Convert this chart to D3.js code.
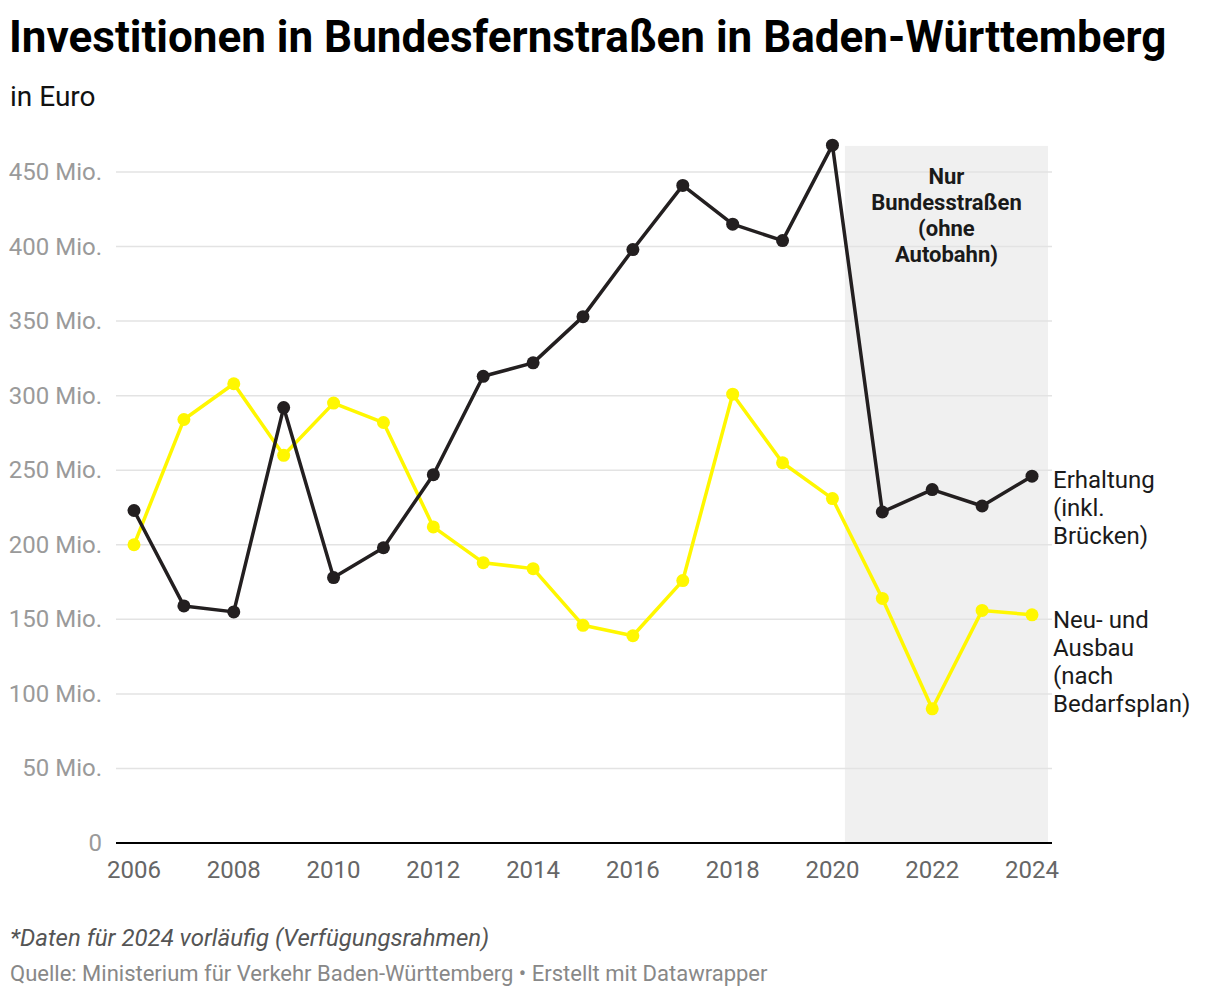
<!DOCTYPE html>
<html><head><meta charset="utf-8">
<script src="https://cdn.jsdelivr.net/npm/d3@7"></script>
<style>
body{margin:0;background:#fff;font-family:Roboto,"Noto Sans",sans-serif;}
</style></head><body>
<svg id="c" width="1220" height="998"></svg>
<script>
const years = [2006,2007,2008,2009,2010,2011,2012,2013,2014,2015,2016,2017,2018,2019,2020,2021,2022,2023,2024];
const erhaltung = [223,159,155,292,178,198,247,313,322,353,398,441,415,404,468,222,237,226,246];
const neubau = [200,284,308,260,295,282,212,188,184,146,139,176,301,255,231,164,90,156,153];
const yTicks = [0,50,100,150,200,250,300,350,400,450];
const xTicks = [2006,2008,2010,2012,2014,2016,2018,2020,2022,2024];
const shade = {from:2020.25, to:2024.32, top:467.5};
const shadeText = ["Nur","Bundesstraßen","(ohne","Autobahn)"];
const labelErh = ["Erhaltung","(inkl.","Brücken)"];
const labelNeu = ["Neu- und","Ausbau","(nach","Bedarfsplan)"];

const svg = d3.select("#c");
const x = d3.scaleLinear().domain([2006,2024]).range([134,1032]);
const y = d3.scaleLinear().domain([0,450]).range([843,172]);

svg.append("text").attr("x",9).attr("y",52).attr("font-size",44).attr("font-weight",700)
  .attr("fill","#000").text("Investitionen in Bundesfernstraßen in Baden-Württemberg");
svg.append("text").attr("x",10).attr("y",106).attr("font-size",28).attr("fill","#111").text("in Euro");

// shade
svg.append("rect").attr("x",x(shade.from)).attr("width",x(shade.to)-x(shade.from))
  .attr("y",y(shade.top)).attr("height",y(0)-y(shade.top)).attr("fill","#f0f0f0");

// grid
svg.append("g").selectAll("line").data(yTicks.filter(d=>d>0)).join("line")
  .attr("x1",116).attr("x2",1052).attr("y1",d=>y(d)).attr("y2",d=>y(d))
  .attr("stroke","#e3e3e3").attr("stroke-width",1.5);
svg.append("g").selectAll("text").data(yTicks).join("text")
  .attr("x",102).attr("y",d=>y(d)+8).attr("text-anchor","end").attr("font-size",24)
  .attr("fill","#9a9a9a").text(d=>d===0?"0":d+" Mio.");
svg.append("line").attr("x1",116).attr("x2",1052).attr("y1",y(0)).attr("y2",y(0))
  .attr("stroke","#000").attr("stroke-width",2);
svg.append("g").selectAll("text").data(xTicks).join("text")
  .attr("x",d=>x(d)).attr("y",878).attr("text-anchor","middle").attr("font-size",24)
  .attr("fill","#666").text(d=>d);

// shade text
svg.append("text").attr("text-anchor","middle").attr("font-size",22).attr("font-weight",700).attr("fill","#1a1a1a")
  .selectAll("tspan").data(shadeText).join("tspan").attr("x",(x(shade.from)+x(shade.to))/2)
  .attr("y",(d,i)=>184+i*26).text(d=>d);

const line = d3.line().x((d,i)=>x(years[i])).y(d=>y(d));
function series(vals,col){
  svg.append("path").datum(vals).attr("d",line).attr("fill","none").attr("stroke",col)
    .attr("stroke-width",3.5).attr("stroke-linejoin","round");
  svg.append("g").selectAll("circle").data(vals).join("circle")
    .attr("cx",(d,i)=>x(years[i])).attr("cy",d=>y(d)).attr("r",6.5).attr("fill",col);
}
series(neubau,"#fff700");
series(erhaltung,"#231f20");

function lab(lines,y0){
  svg.append("text").attr("font-size",24).attr("fill","#1a1a1a").selectAll("tspan").data(lines).join("tspan")
    .attr("x",1053).attr("y",(d,i)=>y0+i*28).text(d=>d);
}
lab(labelErh,488);
lab(labelNeu,628);

svg.append("text").attr("x",10).attr("y",946).attr("font-size",24).attr("font-style","italic")
  .attr("fill","#555").text("*Daten für 2024 vorläufig (Verfügungsrahmen)");
svg.append("text").attr("x",10).attr("y",981).attr("font-size",22)
  .attr("fill","#888").text("Quelle: Ministerium für Verkehr Baden-Württemberg • Erstellt mit Datawrapper");
</script></body></html>
